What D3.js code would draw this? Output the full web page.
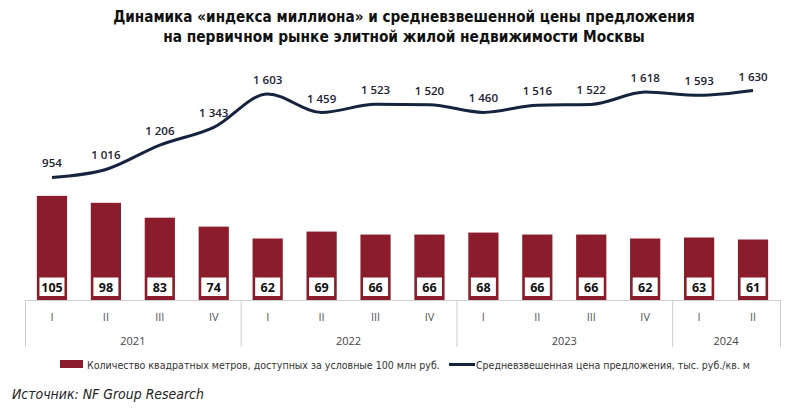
<!DOCTYPE html>
<html><head><meta charset="utf-8">
<script src="https://cdn.jsdelivr.net/npm/d3@7/dist/d3.min.js"></script>
<style>
body{margin:0;background:#fff;}
svg{display:block;}
.narrow{font-family:"DejaVu Sans Condensed","DejaVu Sans",sans-serif;}
</style></head>
<body><svg id="c" width="800" height="411"></svg>
<script>
const quarters = ["I","II","III","IV","I","II","III","IV","I","II","III","IV","I","II"];
const years = ["2021","2022","2023","2024"];
const yearSpans = [4,4,4,2];
const sqm = [105,98,83,74,62,69,66,66,68,66,66,62,63,61];
const price = [954,1016,1206,1343,1603,1459,1523,1520,1460,1516,1522,1618,1593,1630];
const titleLines = ["Динамика «индекса миллиона» и средневзвешенной цены предложения","на первичном рынке элитной жилой недвижимости Москвы"];
const legendBar = "Количество квадратных метров, доступных за условные 100 млн руб.";
const legendLine = "Средневзвешенная цена предложения, тыс. руб./кв. м";
const source = "Источник: NF Group Research";

const svg = d3.select("#c");
const idx = d3.range(quarters.length);
const x = d3.scaleBand().domain(idx).range([25,780]).paddingInner(0.44).paddingOuter(0.22);
const step = (780-25)/quarters.length;
const y1 = d3.scaleLinear().domain([0,120]).range([300,181]);
const y2 = d3.scaleLinear().domain([0,2000]).range([300,43]);
const loc = d3.formatLocale({decimal:",",thousands:" ",grouping:[3],currency:["",""]});
const fmt = loc.format(",d");
const barColor = "#8b1c2b", lineColor = "#15233f";

// fit font size so the natural width matches a target width
function fit(sel, target, maxSize){
  sel.each(function(){
    const t = d3.select(this);
    const fs = +t.attr("font-size");
    const w = this.getComputedTextLength();
    const tw = typeof target === "function" ? target.apply(this, arguments) : target;
    let ns = fs * tw / w;
    if (maxSize) ns = Math.min(ns, maxSize);
    t.attr("font-size", ns.toFixed(2));
  });
}

// title
const titleW = [582,482];
const tt = svg.append("g").selectAll("text").data(titleLines).join("text")
  .attr("class","narrow").attr("x",404).attr("y",(d,i)=>22+i*20)
  .attr("text-anchor","middle").attr("font-weight","bold").attr("font-size",16).attr("fill","#111")
  .text(d=>d);
tt.each(function(d,i){ fit(d3.select(this), titleW[i], 17); });

// bars
svg.append("g").selectAll("rect").data(idx).join("rect")
  .attr("x",i=>x(i)).attr("width",x.bandwidth()).attr("y",i=>y1(sqm[i]))
  .attr("height",i=>y1(0)-y1(sqm[i])).attr("fill",barColor);
// bar labels
const lb = svg.append("g").selectAll("g").data(idx).join("g")
  .attr("transform",i=>`translate(${x(i)+x.bandwidth()/2},${y1(0)-13})`);
lb.append("rect").attr("x",-12.5).attr("y",-9.5).attr("width",25).attr("height",18.5).attr("fill","#fff");
lb.append("text").attr("text-anchor","middle").attr("dy","0.36em")
  .attr("font-family","Open Sans,sans-serif").attr("font-weight","bold").attr("font-size",12.5).attr("fill","#111")
  .text(i=>sqm[i]);

// axis frame
const axisG = svg.append("g").attr("stroke","#cfcfcf").attr("stroke-width",1);
axisG.append("line").attr("x1",25).attr("x2",780).attr("y1",300.5).attr("y2",300.5);
let acc=0; const bounds=[0];
yearSpans.forEach(s=>{acc+=s;bounds.push(acc);});
axisG.selectAll("line.v").data(bounds).join("line").attr("class","v")
  .attr("x1",b=>25+b*step+0.5).attr("x2",b=>25+b*step+0.5).attr("y1",300).attr("y2",347);
svg.append("g").selectAll("text").data(idx).join("text")
  .attr("x",i=>x(i)+x.bandwidth()/2).attr("y",321).attr("text-anchor","middle")
  .attr("font-family","Open Sans,sans-serif").attr("font-size",11).attr("fill","#555")
  .text(i=>quarters[i]);
svg.append("g").selectAll("text").data(years).join("text")
  .attr("x",(d,i)=>25+(bounds[i]+bounds[i+1])/2*step).attr("y",345).attr("text-anchor","middle")
  .attr("font-family","Open Sans,sans-serif").attr("font-size",11).attr("fill","#444")
  .text(d=>d);

// line
const line = d3.line().x(i=>x(i)+x.bandwidth()/2).y(i=>y2(price[i])).curve(d3.curveMonotoneX);
svg.append("path").datum(idx).attr("d",line).attr("fill","none").attr("stroke",lineColor).attr("stroke-width",3).attr("stroke-linejoin","round");
svg.append("g").selectAll("text").data(idx).join("text")
  .attr("x",i=>x(i)+x.bandwidth()/2).attr("y",i=>y2(price[i])-10).attr("text-anchor","middle")
  .attr("font-family","Open Sans,sans-serif").attr("font-weight",600).attr("font-size",11.5).attr("fill","#1c2233")
  .text(i=>fmt(price[i]));

// legend
const lg = svg.append("g");
lg.append("rect").attr("x",60).attr("y",360).attr("width",23).attr("height",8).attr("fill",barColor);
const lt1 = lg.append("text").attr("class","narrow").attr("x",87).attr("y",369).attr("font-size",12).attr("fill","#333").text(legendBar);
fit(lt1, 353, 13);
lg.append("line").attr("x1",449).attr("x2",475).attr("y1",364.5).attr("y2",364.5).attr("stroke",lineColor).attr("stroke-width",3);
const lt2 = lg.append("text").attr("class","narrow").attr("x",476).attr("y",369).attr("font-size",12).attr("fill","#333").text(legendLine);
fit(lt2, 274, 13);

// source
const st = svg.append("text").attr("class","narrow").attr("x",12).attr("y",399).attr("font-style","italic")
  .attr("font-size",14).attr("fill","#222").text(source);
fit(st, 192, 16);
</script></body></html>
